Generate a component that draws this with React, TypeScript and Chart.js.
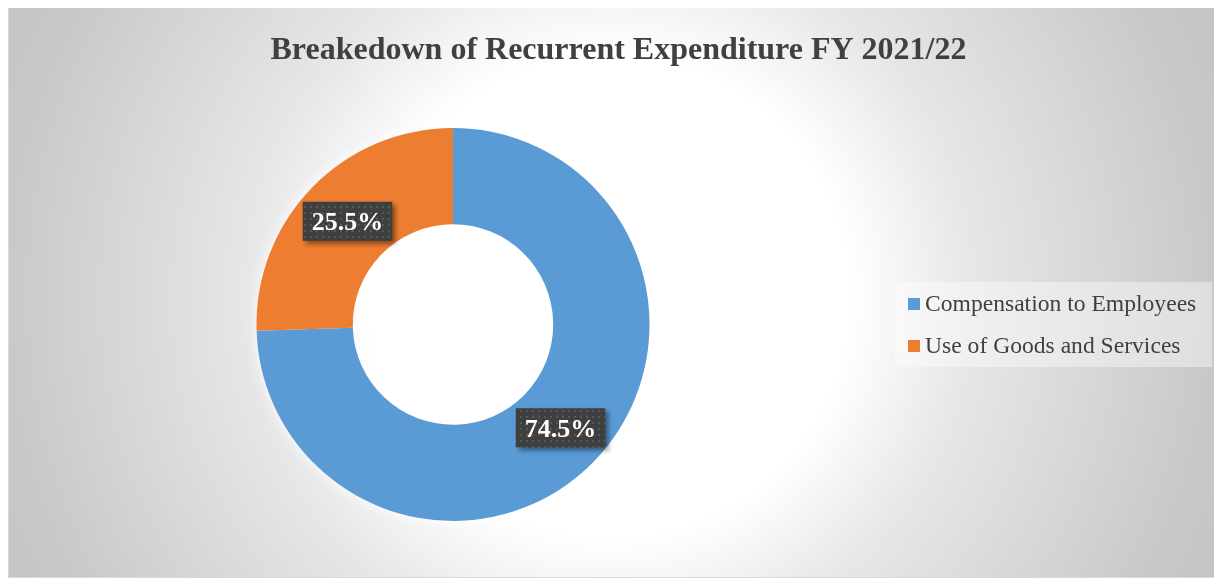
import React, { useEffect, useRef } from "react";
import { Chart, registerables } from "chart.js";

Chart.register(...registerables);

const titleText = "Breakedown of Recurrent Expenditure FY 2021/22";
const categories = ["Compensation to Employees", "Use of Goods and Services"];
const shares = [74.5, 25.5];
const sliceColors = ["#5B9BD5", "#ED7D31"];

const SERIF = "'Liberation Serif', 'Times New Roman', serif";

function makePattern(ctx: CanvasRenderingContext2D) {
  const c = document.createElement("canvas");
  c.width = 6;
  c.height = 6;
  const p = c.getContext("2d")!;
  p.fillStyle = "#3f3f3f";
  p.fillRect(0, 0, 6, 6);
  p.fillStyle = "#575757";
  p.fillRect(1, 1, 2, 2);
  return ctx.createPattern(c, "repeat");
}

const titlePlugin = {
  id: "centerTitle",
  afterDraw(chart: any) {
    const ctx = chart.ctx as CanvasRenderingContext2D;
    ctx.save();
    ctx.font = `bold 32px ${SERIF}`;
    ctx.fillStyle = "#404040";
    ctx.textAlign = "center";
    ctx.textBaseline = "alphabetic";
    ctx.fillText(titleText, 609.5, 52);
    ctx.restore();
  },
};

const glowPlugin = {
  id: "ringGlow",
  beforeDatasetsDraw(chart: any) {
    const meta = chart.getDatasetMeta(0);
    const arc = meta.data[0];
    if (!arc) return;
    const { x, y, innerRadius, outerRadius } = arc.getProps(["x", "y", "innerRadius", "outerRadius"]);
    const ctx = chart.ctx;
    ctx.save();
    ctx.shadowColor = "rgba(255,255,255,0.95)";
    ctx.shadowBlur = 14;
    ctx.fillStyle = "#ffffff";
    ctx.beginPath();
    ctx.arc(x, y, outerRadius, 0, Math.PI * 2);
    ctx.arc(x, y, innerRadius, 0, Math.PI * 2, true);
    ctx.fill();
    ctx.restore();
  },
};

const labelPlugin = {
  id: "boxLabels",
  afterDatasetsDraw(chart: any) {
    const ctx = chart.ctx as CanvasRenderingContext2D;
    const meta = chart.getDatasetMeta(0);
    const values = chart.data.datasets[0].data as number[];
    const pattern = makePattern(ctx);
    meta.data.forEach((arc: any, i: number) => {
      const pt = arc.getCenterPoint();
      const text = values[i].toFixed(1) + "%";
      ctx.save();
      ctx.font = `bold 26px ${SERIF}`;
      const tw = ctx.measureText(text).width;
      const w = tw + 18;
      const h = 39;
      const bx = pt.x - w / 2 + 1;
      const by = pt.y - h / 2;
      ctx.shadowColor = "rgba(0,0,0,0.45)";
      ctx.shadowBlur = 5;
      ctx.shadowOffsetX = 3;
      ctx.shadowOffsetY = 3;
      ctx.fillStyle = pattern || "#404040";
      ctx.fillRect(bx, by, w, h);
      ctx.shadowColor = "transparent";
      ctx.fillStyle = "#ffffff";
      ctx.textAlign = "center";
      ctx.textBaseline = "alphabetic";
      ctx.fillText(text, pt.x + 1, pt.y + 9);
      ctx.restore();
    });
  },
};

const legendPlugin = {
  id: "sideLegend",
  afterDraw(chart: any) {
    const ctx = chart.ctx as CanvasRenderingContext2D;
    ctx.save();
    ctx.fillStyle = "rgba(255,255,255,0.4)";
    ctx.fillRect(886, 275, 317, 85);
    ctx.font = `23.6px ${SERIF}`;
    ctx.textBaseline = "middle";
    ctx.textAlign = "left";
    categories.forEach((name, i) => {
      const cy = 297 + i * 42;
      ctx.fillStyle = sliceColors[i];
      ctx.fillRect(899, cy - 6, 12, 12);
      ctx.fillStyle = "#404040";
      ctx.fillText(name, 916, cy + 1);
    });
    ctx.restore();
  },
};

export default function App() {
  const canvasRef = useRef<HTMLCanvasElement | null>(null);

  useEffect(() => {
    if (!canvasRef.current) return;
    const chart = new Chart(canvasRef.current, {
      type: "doughnut",
      data: {
        labels: categories,
        datasets: [
          {
            data: shares,
            backgroundColor: sliceColors,
            borderWidth: 0,
          },
        ],
      },
      options: {
        animation: false,
        responsive: false,
        cutout: "51%",
        layout: { padding: { left: 0, right: 324, bottom: 56, top: 121 } },
        plugins: {
          legend: { display: false },
          tooltip: { enabled: false },
          title: { display: false },
        },
      },
      plugins: [glowPlugin, labelPlugin, legendPlugin, titlePlugin],
    });
    return () => chart.destroy();
  }, []);

  return (
    <div
      style={{
        position: "relative",
        width: 1214,
        height: 572,
        marginTop: -2,
        boxSizing: "border-box",
        border: "1px solid #d9d9d9",
        background:
          "radial-gradient(circle 700px at 600px 290px, #ffffff 0px, #ffffff 240px, #f3f3f3 300px, #e7e7e7 360px, #d8d8d8 480px, #c9c9c9 600px, #c2c2c2 700px)",
      }}
    >
      <canvas
        ref={canvasRef}
        width={1212}
        height={570}
        style={{ display: "block", width: 1212, height: 570 }}
      />
    </div>
  );
}
